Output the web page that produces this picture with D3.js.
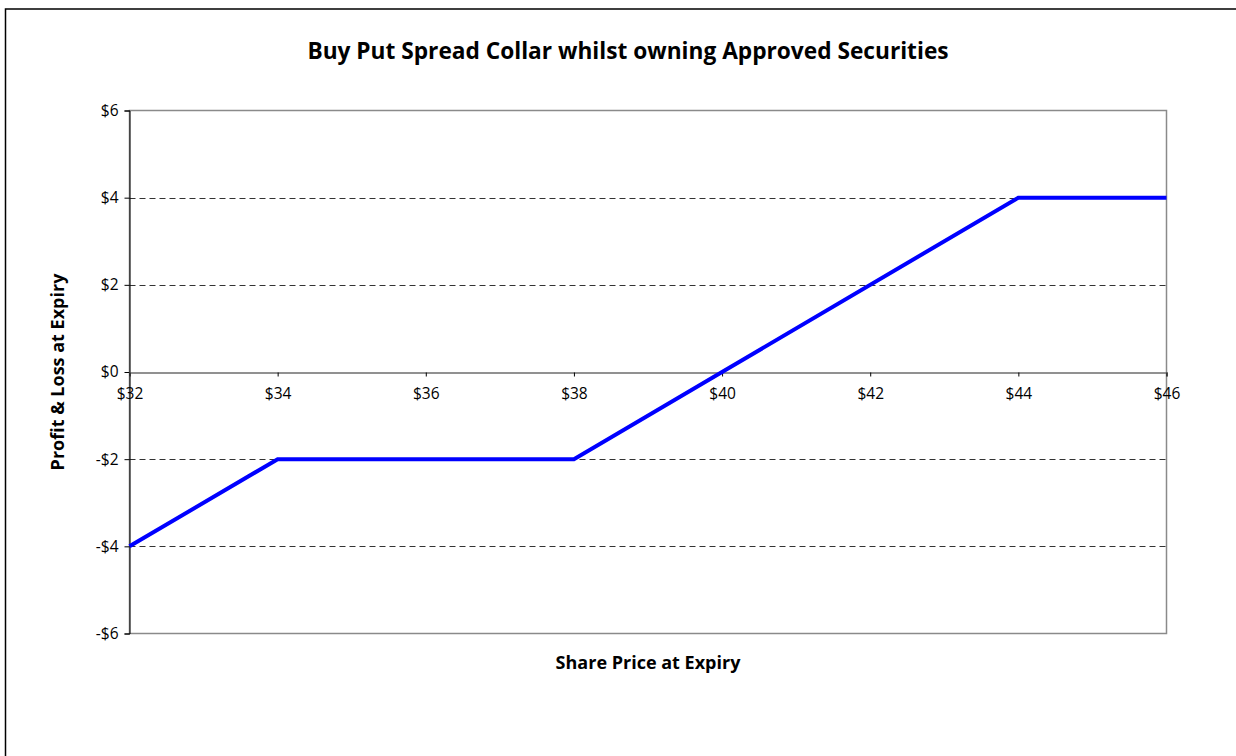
<!DOCTYPE html>
<html>
<head>
<meta charset="utf-8">
<script src="https://cdn.jsdelivr.net/npm/d3@7"></script>
<style>
  body { margin: 0; background: #fff; }
  text { font-family: 'Open Sans', 'DejaVu Sans', sans-serif; }
</style>
</head>
<body>
<div id="chart-area"></div>
<script>
const sharePrices = [32, 34, 38, 40, 44, 46];
const profitLoss = [-4, -2, -2, 0, 4, 4];
const xTicks = [32, 34, 36, 38, 40, 42, 44, 46];
const yTicks = [-6, -4, -2, 0, 2, 4, 6];
const gridLevels = [-4, -2, 2, 4];

let width = 1236;
let height = 756;
let plot = { left: 129.5, top: 110.5, right: 1166.5, bottom: 633.5 };

let svg = d3
  .select('#chart-area')
  .append('svg')
  .attr('width', width)
  .attr('height', height);

//outer chart frame, runs off the right and bottom edges
svg
  .append('rect')
  .attr('x', 5.5)
  .attr('y', 9)
  .attr('width', 1260)
  .attr('height', 800)
  .style('fill', 'none')
  .style('stroke', '#000')
  .style('stroke-width', 1.5);

let x = d3.scaleLinear().domain([32, 46]).range([plot.left, plot.right]);
let y = d3.scaleLinear().domain([-6, 6]).range([plot.bottom, plot.top]);

//plot area border
svg
  .append('rect')
  .attr('x', plot.left)
  .attr('y', plot.top)
  .attr('width', plot.right - plot.left)
  .attr('height', plot.bottom - plot.top)
  .style('fill', 'none')
  .style('stroke', '#8a8a8a')
  .style('stroke-width', 1.5);

//dashed gridlines
svg
  .selectAll('.grid')
  .data(gridLevels)
  .enter()
  .append('line')
  .attr('class', 'grid')
  .attr('x1', plot.left)
  .attr('x2', plot.right)
  .attr('y1', (d) => Math.round(y(d)) + 0.5)
  .attr('y2', (d) => Math.round(y(d)) + 0.5)
  .style('stroke', '#333')
  .style('stroke-dasharray', '6,4');

//y axis on the left
let yAxis = d3
  .axisLeft(y)
  .tickValues(yTicks)
  .tickSize(5)
  .tickFormat((d) => (d < 0 ? '-$' : '$') + Math.abs(d));
let gy = svg.append('g').attr('transform', `translate(${plot.left},0)`).call(yAxis);
gy.attr('font-size', null).attr('font-family', null);
gy.select('.domain').style('stroke', '#000').style('stroke-width', 1);
gy.selectAll('.tick line').style('stroke', '#000');
gy.selectAll('.tick text').style('font-size', '15.5px').style('fill', '#000').attr('x', -11);

//x axis crosses at zero
let xAxis = d3
  .axisBottom(x)
  .tickValues(xTicks)
  .tickSize(4)
  .tickFormat((d) => '$' + d);
let gx = svg.append('g').attr('transform', `translate(0,${Math.round(y(0)) + 0.5})`).call(xAxis);
gx.attr('font-size', null).attr('font-family', null);
gx.select('.domain').style('stroke', '#6e6e6e').style('stroke-width', 1.5);
gx.selectAll('.tick line').style('stroke', '#000');
gx.selectAll('.tick text').style('font-size', '15.5px').style('fill', '#000').attr('y', 15);

//payoff line
let line = d3
  .line()
  .x((d, i) => x(sharePrices[i]))
  .y((d) => y(d));
svg
  .append('path')
  .datum(profitLoss)
  .attr('d', line)
  .style('fill', 'none')
  .style('stroke', '#0000ff')
  .style('stroke-width', 4)
  .style('stroke-linejoin', 'miter');

//titles
svg
  .append('text')
  .attr('x', 628)
  .attr('y', 59)
  .attr('text-anchor', 'middle')
  .style('font-size', '22.7px')
  .style('font-weight', 'bold')
  .text('Buy Put Spread Collar whilst owning Approved Securities');

svg
  .append('text')
  .attr('x', 648)
  .attr('y', 669)
  .attr('text-anchor', 'middle')
  .style('font-size', '18px')
  .style('font-weight', 'bold')
  .text('Share Price at Expiry');

svg
  .append('text')
  .attr('transform', `translate(64,${372}) rotate(-90)`)
  .attr('text-anchor', 'middle')
  .style('font-size', '18px')
  .style('font-weight', 'bold')
  .text('Profit & Loss at Expiry');
</script>
</body>
</html>
